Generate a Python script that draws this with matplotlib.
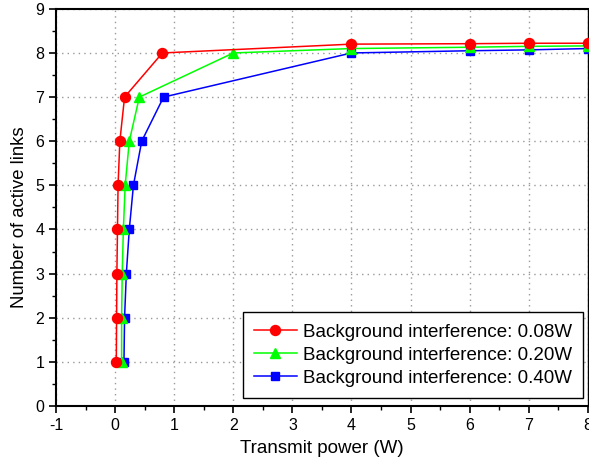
import matplotlib
matplotlib.use("Agg")
import matplotlib.pyplot as plt
from matplotlib.ticker import MultipleLocator

plt.rcParams['font.family'] = ['Liberation Sans', 'DejaVu Sans']
plt.rcParams['axes.unicode_minus'] = False

x_red = [0.02, 0.025, 0.03, 0.04, 0.05, 0.08, 0.16, 0.8, 4, 6, 7, 8]
y_red = [1, 2, 3, 4, 5, 6, 7, 8, 8.2, 8.21, 8.22, 8.22]
x_green = [0.11, 0.11, 0.12, 0.14, 0.17, 0.24, 0.41, 2.0, 4, 6, 7, 8]
y_green = [1, 2, 3, 4, 5, 6, 7, 8, 8.1, 8.13, 8.15, 8.16]
x_blue = [0.15, 0.16, 0.19, 0.24, 0.31, 0.45, 0.82, 4, 6, 7, 8]
y_blue = [1, 2, 3, 4, 5, 6, 7, 8, 8.05, 8.07, 8.1]

labels = ["Background interference: 0.08W",
          "Background interference: 0.20W",
          "Background interference: 0.40W"]

fig = plt.figure(figsize=(5.89, 4.65), dpi=100)
ax = fig.add_axes([0.0951, 0.127, 0.903, 0.854])

ax.plot(x_red, y_red, color='#ff0000', marker='o', markersize=7.2, lw=1.1, label=labels[0], zorder=5)
ax.plot(x_green, y_green, color='#00ff00', marker='^', markersize=7.8, lw=1.1, label=labels[1], zorder=4)
ax.plot(x_blue, y_blue, color='#0000ff', marker='s', markersize=6.2, lw=1.1, label=labels[2], zorder=3)

ax.set_xlim(-1, 8)
ax.set_ylim(0, 9)
ax.xaxis.set_major_locator(MultipleLocator(1))
ax.xaxis.set_minor_locator(MultipleLocator(0.5))
ax.yaxis.set_major_locator(MultipleLocator(1))
ax.yaxis.set_minor_locator(MultipleLocator(0.5))
ax.tick_params(which='major', direction='out', length=5, width=1.2, labelsize=11.5, top=False, right=False)
ax.tick_params(which='minor', direction='out', length=3, width=1.0, top=False, right=False)
for s in ['left', 'bottom', 'top']:
    ax.spines[s].set_linewidth(1.5)
ax.spines['right'].set_linewidth(1.0)

ax.grid(True, which='major', linestyle=(0, (1, 3)), color='#999999', linewidth=1.0)
ax.set_axisbelow(True)

ax.set_xlabel("Transmit power (W)", fontsize=13.5, labelpad=5)
ax.set_ylabel("Number of active links", fontsize=13.3)
ax.yaxis.set_label_coords(-0.053, 0.476)

leg = ax.legend(loc='lower right', fontsize=13.5, frameon=True, fancybox=False,
                edgecolor='black', framealpha=1, handlelength=2.3, handletextpad=0.3,
                borderpad=0.6, labelspacing=0.32, borderaxespad=0,
                bbox_to_anchor=(0.9906, 0.02))
leg.get_frame().set_linewidth(1.0)

fig.savefig("out.png", dpi=100)
